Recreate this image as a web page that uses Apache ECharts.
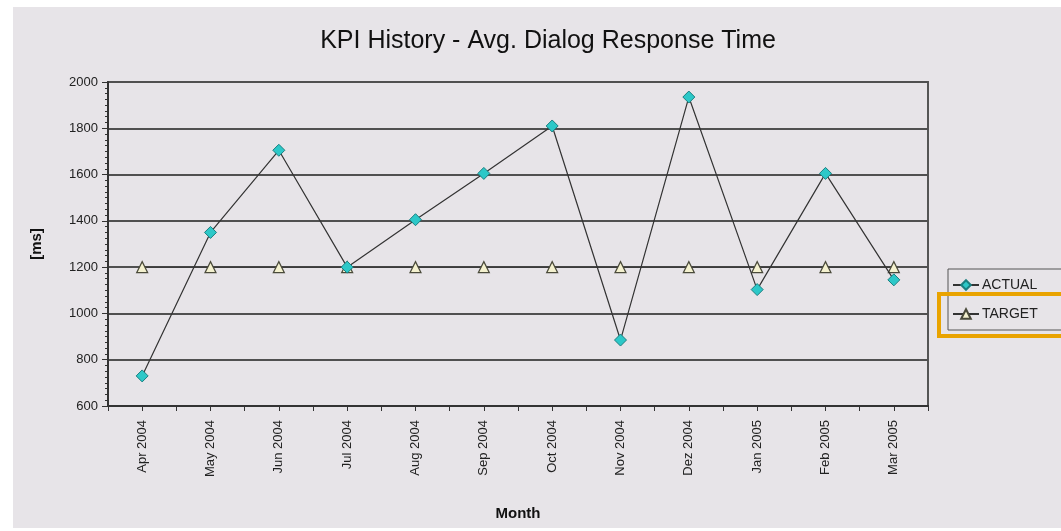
<!DOCTYPE html>
<html>
<head>
<meta charset="utf-8">
<script src="https://cdn.jsdelivr.net/npm/echarts@6/dist/echarts.min.js"></script>
<style>
  html, body { margin: 0; padding: 0; background: #fff; }
  #main { width: 1061px; height: 531px; }
</style>
</head>
<body>
<div id="main"></div>
<script>
var months = ['Apr 2004', 'May 2004', 'Jun 2004', 'Jul 2004', 'Aug 2004', 'Sep 2004',
  'Oct 2004', 'Nov 2004', 'Dez 2004', 'Jan 2005', 'Feb 2005', 'Mar 2005'];
var actual = [730, 1350, 1705, 1200, 1405, 1605, 1810, 885, 1935, 1103, 1605, 1145];
var target = [1200, 1200, 1200, 1200, 1200, 1200, 1200, 1200, 1200, 1200, 1200, 1200];

var myChart = echarts.init(document.getElementById('main'), null, { renderer: 'canvas' });

var font = 'Liberation Sans, Arial, sans-serif';

var option = {
  backgroundColor: '#ffffff',
  animation: false,
  textStyle: { fontFamily: font },
  graphic: [
    {
      type: 'rect', z: -10, silent: true,
      shape: { x: 13, y: 7, width: 1048, height: 521 },
      style: { fill: '#e7e4e8' }
    },
    {
      type: 'rect', z: 100, silent: true,
      shape: { x: 939, y: 294, width: 124, height: 42 },
      style: { fill: 'none', stroke: '#e9a300', lineWidth: 4 }
    }
  ],
  title: {
    text: 'KPI History - Avg. Dialog Response Time',
    left: 543, top: 24, textAlign: 'center',
    textStyle: { fontFamily: font, fontSize: 25, fontWeight: 'normal', color: '#111' }
  },
  legend: {
    orient: 'vertical',
    left: 948, top: 269,
    padding: [9, 30, 9, 4],
    itemGap: 15,
    itemWidth: 26, itemHeight: 12,
    borderColor: '#555', borderWidth: 1,
    textStyle: { fontSize: 14, color: '#222', padding: [0, 0, 0, -2] },
    data: ['ACTUAL', 'TARGET']
  },
  grid: {
    left: 108, right: 133, top: 82, bottom: 125,
    show: true, borderColor: '#555', borderWidth: 2, backgroundColor: 'transparent'
  },
  xAxis: [
    {
      type: 'category',
      data: months,
      boundaryGap: true,
      name: 'Month',
      nameLocation: 'middle',
      nameGap: 100,
      nameTextStyle: { fontSize: 15, fontWeight: 'bold', color: '#111' },
      axisLine: { onZero: false, lineStyle: { color: '#333', width: 2 } },
      axisTick: { show: false },
      axisLabel: { rotate: 90, fontSize: 13, color: '#222', margin: 14, interval: 0 }
    },
    {
      // tick marks at category centres and boundaries
      type: 'value',
      position: 'bottom',
      min: -0.5, max: 11.5, interval: 0.5,
      axisLine: { show: true, onZero: false, lineStyle: { color: '#333', width: 2 } },
      axisTick: { show: true, length: 5, lineStyle: { color: '#333' } },
      axisLabel: { show: false },
      splitLine: { show: false }
    }
  ],
  yAxis: {
    type: 'value',
    min: 600, max: 2000, interval: 200,
    name: '[ms]',
    nameLocation: 'middle',
    nameGap: 64,
    nameRotate: 90,
    nameTextStyle: { fontSize: 15, fontWeight: 'bold', color: '#111' },
    axisLine: { show: true, onZero: false, lineStyle: { color: '#333', width: 2 } },
    axisTick: { show: true, length: 6, lineStyle: { color: '#333' } },
    minorTick: { show: true, splitNumber: 8, length: 3, lineStyle: { color: '#333' } },
    axisLabel: { fontSize: 13, color: '#222', margin: 10, formatter: function (v) { return String(v); } },
    splitLine: { show: true, lineStyle: { color: '#505050', width: 2 } }
  },
  series: [
    {
      name: 'ACTUAL',
      type: 'line',
      data: actual,
      symbol: 'diamond',
      symbolSize: 12,
      itemStyle: { color: '#2cc8c8', borderColor: '#1a7f80', borderWidth: 1 },
      lineStyle: { color: '#333', width: 1.2 },
      z: 5
    },
    {
      name: 'TARGET',
      type: 'line',
      data: target,
      symbol: 'triangle',
      symbolSize: 11,
      itemStyle: { color: '#f4f1cf', borderColor: '#4a4a3a', borderWidth: 1.2 },
      lineStyle: { color: '#333', width: 1 },
      z: 4
    }
  ]
};

myChart.setOption(option);
</script>
</body>
</html>
